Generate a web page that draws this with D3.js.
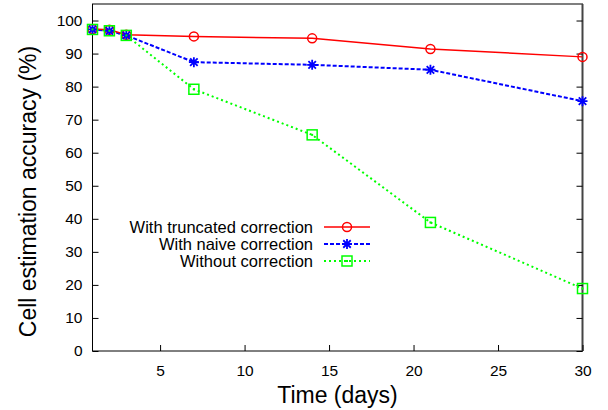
<!DOCTYPE html>
<html><head><meta charset="utf-8">
<script src="https://cdn.jsdelivr.net/npm/d3@7"></script>
<style>body{margin:0;background:#fff}svg{display:block;font-family:"Liberation Sans",Arial,sans-serif}</style>
</head><body>
<svg id="c" width="608" height="410"></svg>
<script>
const days = [1, 2, 3, 7, 14, 21, 30];
const truncated = [97.4, 97.2, 95.7, 95.2, 94.6, 91.4, 89.0];
const naive = [97.3, 96.9, 95.5, 87.4, 86.6, 85.1, 75.6];
const without = [97.3, 96.9, 95.5, 79.2, 65.4, 38.9, 18.9];
const seriesNames = ["With truncated correction", "With naive correction", "Without correction"];
const xTicks = [5, 10, 15, 20, 25, 30];
const yTicks = [0, 10, 20, 30, 40, 50, 60, 70, 80, 90, 100];

const svg = d3.select("#c");
const L = 92.5, R = 582.5, T = 4, B = 351;
const x = d3.scaleLinear().domain([1, 30]).range([L, R]);
const y = d3.scaleLinear().domain([0, 105]).range([B, T]);

// frame
svg.append("rect").attr("x", L).attr("y", T).attr("width", R - L).attr("height", B - T)
  .attr("fill", "none").attr("stroke", "#000").attr("stroke-width", 1);
svg.append("line").attr("x1", R).attr("x2", R).attr("y1", T).attr("y2", B)
  .attr("stroke", "#444").attr("stroke-width", 2);

// axes
const gx = svg.append("g").attr("transform", `translate(0,${B})`)
  .call(d3.axisBottom(x).tickValues(xTicks).tickSizeInner(-6).tickSizeOuter(0).tickPadding(14));
const gy = svg.append("g").attr("transform", `translate(${L},0)`)
  .call(d3.axisLeft(y).tickValues(yTicks).tickSizeInner(-6).tickSizeOuter(0).tickPadding(10));
const gr = svg.append("g").attr("transform", `translate(${R},0)`)
  .call(d3.axisRight(y).tickValues(yTicks).tickSizeInner(-6).tickSizeOuter(0).tickFormat(""));
[gx, gy, gr].forEach(g => {
  g.select(".domain").remove();
  g.selectAll("text").attr("font-size", 15.5).attr("fill", "#000").attr("font-family", "Liberation Sans, Arial, sans-serif");
  g.selectAll("line").attr("stroke", "#000");
});

// titles
svg.append("text").attr("x", (L + R) / 2).attr("y", 403).attr("text-anchor", "middle")
  .attr("font-size", 23).text("Time (days)");
svg.append("text").attr("transform", `translate(36,${(T + B) / 2 + 14}) rotate(-90)`)
  .attr("text-anchor", "middle").attr("font-size", 23).text("Cell estimation accuracy (%)");

const styles = [
  {vals: truncated, color: "#ff0000", dash: null, w: 1.5, marker: "circle"},
  {vals: naive, color: "#0000ff", dash: "4,2", w: 2, marker: "star"},
  {vals: without, color: "#00ff00", dash: "2,3", w: 2, marker: "square"}
];

function drawMarker(g, type, cx, cy, color) {
  if (type === "circle") {
    g.append("circle").attr("cx", cx).attr("cy", cy).attr("r", 4.5)
      .attr("fill", "none").attr("stroke", color).attr("stroke-width", 1.5);
  } else if (type === "square") {
    g.append("rect").attr("x", cx - 5).attr("y", cy - 5).attr("width", 10).attr("height", 10)
      .attr("fill", "none").attr("stroke", color).attr("stroke-width", 1.5);
    g.append("rect").attr("x", cx - 1).attr("y", cy - 1).attr("width", 2).attr("height", 2).attr("fill", color);
  } else {
    const s = 5;
    const p = `M${cx - s},${cy}L${cx + s},${cy}M${cx},${cy - s}L${cx},${cy + s}` +
      `M${cx - s * 0.75},${cy - s * 0.75}L${cx + s * 0.75},${cy + s * 0.75}` +
      `M${cx - s * 0.75},${cy + s * 0.75}L${cx + s * 0.75},${cy - s * 0.75}`;
    g.append("path").attr("d", p).attr("stroke", color).attr("stroke-width", 1.8).attr("fill", "none");
  }
}

const line = d3.line().x(d => x(d[0])).y(d => y(d[1]));
styles.slice().reverse().forEach(st => {
  const g = svg.append("g");
  const pts = days.map((d, i) => [d, st.vals[i]]);
  g.append("path").attr("d", line(pts)).attr("fill", "none").attr("stroke", st.color)
    .attr("stroke-width", st.w).attr("stroke-dasharray", st.dash);
});
styles.forEach(st => {
  const g = svg.append("g");
  days.forEach((d, i) => drawMarker(g, st.marker, x(d), y(st.vals[i]), st.color));
});

// legend
const legY = [227, 244, 261];
styles.forEach((st, i) => {
  const g = svg.append("g");
  g.append("text").attr("x", 313).attr("y", legY[i] + 6).attr("text-anchor", "end")
    .attr("font-size", 16.5).text(seriesNames[i]);
  g.append("line").attr("x1", 324).attr("x2", 370).attr("y1", legY[i]).attr("y2", legY[i])
    .attr("stroke", st.color).attr("stroke-width", st.w).attr("stroke-dasharray", st.dash);
  drawMarker(g, st.marker, 347, legY[i], st.color);
});
</script>
</body></html>
